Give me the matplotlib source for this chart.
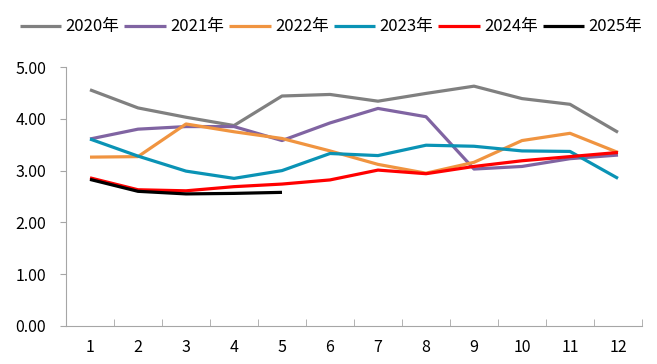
import matplotlib
matplotlib.use("Agg")
import matplotlib.pyplot as plt
import numpy as np

plt.rcParams['font.family'] = ['Noto Sans CJK SC', 'DejaVu Sans']

months = [1, 2, 3, 4, 5, 6, 7, 8, 9, 10, 11, 12]
s2020 = [4.56, 4.21, 4.03, 3.87, 4.44, 4.47, 4.34, 4.49, 4.63, 4.39, 4.28, 3.74]
s2021 = [3.61, 3.80, 3.85, 3.85, 3.58, 3.92, 4.20, 4.04, 3.03, 3.08, 3.23, 3.30]
s2022 = [3.26, 3.27, 3.90, 3.75, 3.62, 3.38, 3.12, 2.95, 3.16, 3.58, 3.72, 3.35]
s2023 = [3.61, 3.28, 2.99, 2.85, 3.00, 3.33, 3.29, 3.49, 3.47, 3.38, 3.37, 2.85]
s2024 = [2.86, 2.63, 2.61, 2.69, 2.74, 2.82, 3.01, 2.94, 3.08, 3.19, 3.27, 3.35]
s2025 = [2.83, 2.60, 2.55, 2.56, 2.58]
labels = ['2020年', '2021年', '2022年', '2023年', '2024年', '2025年']
colors = ['#808080', '#8064A2', '#F09440', '#0A93B5', '#FF0000', '#000000']
series = [s2020, s2021, s2022, s2023, s2024, s2025]

fig = plt.figure(figsize=(6.57, 3.64), dpi=100)
ax = fig.add_axes([66/657, 1-326/364, (642-66)/657, (326-67)/364])

for s, lab, c in zip(series, labels, colors):
    ax.plot(months[:len(s)], s, color=c, lw=2.3, label=lab, solid_capstyle='butt')

ax.set_xlim(0.5, 12.5)
ax.set_ylim(0, 5)
ax.set_yticks(np.arange(0, 5.01, 1))
ax.set_yticklabels([f'{v:.2f}' for v in np.arange(0, 5.01, 1)])
ax.set_xticks(months)
ax.set_xticks(np.arange(0.5, 12.6, 1), minor=True)
ax.tick_params(axis='x', which='major', length=0, pad=9, labelsize=11.5)
ax.tick_params(axis='x', which='minor', length=5, direction='in', color='#A6A6A6')
ax.tick_params(axis='y', length=4.3, direction='out', color='#A6A6A6', labelsize=11.5, pad=10)
for sp in ['top', 'right']:
    ax.spines[sp].set_visible(False)
for sp in ['left', 'bottom']:
    ax.spines[sp].set_color('#A6A6A6')

fig.legend(loc='center', bbox_to_anchor=(331/657, 1-27/364), ncol=6, frameon=False,
           fontsize=12, handlelength=2.5, handletextpad=0.25, columnspacing=0.3)

fig.savefig('out.png', dpi=100)
